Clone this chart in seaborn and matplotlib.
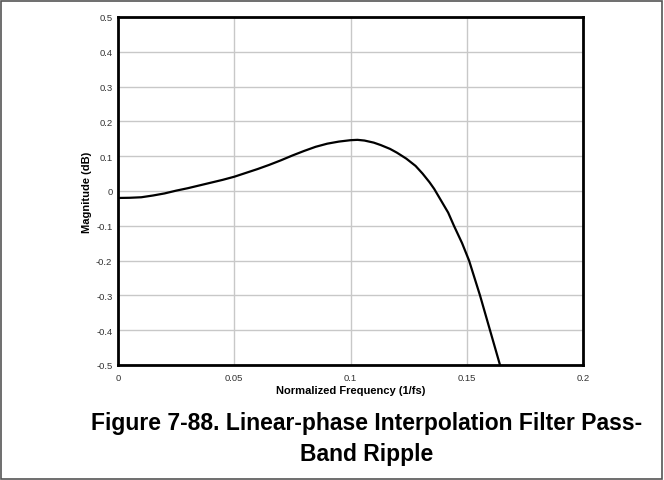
import matplotlib
matplotlib.use("Agg")
import matplotlib.pyplot as plt
import seaborn as sns
import pandas as pd
from matplotlib.patches import Rectangle

# ============================================================
# DATA
# ============================================================

freq = [0.0, 0.005, 0.01, 0.015, 0.02, 0.025, 0.03, 0.035, 0.04, 0.045,
        0.05, 0.055, 0.06, 0.065, 0.07, 0.075, 0.08, 0.085, 0.09, 0.095,
        0.1, 0.103, 0.106, 0.11, 0.113, 0.117, 0.12, 0.124, 0.128, 0.131,
        0.134, 0.136, 0.139, 0.142, 0.1445, 0.148, 0.151, 0.1557, 0.16, 0.1643]
magnitude = [-0.020, -0.0195, -0.018, -0.013, -0.007, 0.001, 0.008, 0.016, 0.024, 0.032,
             0.041, 0.052, 0.063, 0.075, 0.088, 0.102, 0.115, 0.127, 0.136, 0.142,
             0.146, 0.147, 0.145, 0.139, 0.132, 0.121, 0.110, 0.093, 0.072, 0.050,
             0.025, 0.006, -0.028, -0.062, -0.100, -0.150, -0.200, -0.300, -0.400, -0.500]

x_ticks = [0, 0.05, 0.1, 0.15, 0.2]
x_tick_labels = ["0", "0.05", "0.1", "0.15", "0.2"]
y_ticks = [-0.5, -0.4, -0.3, -0.2, -0.1, 0, 0.1, 0.2, 0.3, 0.4, 0.5]
y_tick_labels = ["-0.5", "-0.4", "-0.3", "-0.2", "-0.1", "0",
                 "0.1", "0.2", "0.3", "0.4", "0.5"]

caption = "Figure 7-88. Linear-phase Interpolation Filter Pass-\nBand Ripple"

# ============================================================
# FIGURE
# ============================================================

sns.set_style("white")
plt.rcParams["font.family"] = ["Liberation Sans", "DejaVu Sans"]
plt.rcParams["text.color"] = "black"
plt.rcParams["axes.labelcolor"] = "black"

fig = plt.figure(figsize=(6.64, 4.81), dpi=100)
ax = fig.add_axes([118 / 664, 115 / 481, 465 / 664, 348 / 481])

df = pd.DataFrame({"freq": freq, "mag": magnitude})
sns.lineplot(data=df, x="freq", y="mag", ax=ax, color="black",
             linewidth=1.6, sort=False, estimator=None)

ax.set_xlim(0, 0.2)
ax.set_ylim(-0.5, 0.5)
ax.set_xticks(x_ticks)
ax.set_xticklabels(x_tick_labels)
ax.set_yticks(y_ticks)
ax.set_yticklabels(y_tick_labels)
ax.tick_params(axis="both", labelsize=6.8, colors="#333333", length=0)
ax.tick_params(axis="x", pad=6)
ax.tick_params(axis="y", pad=4)
ax.grid(True, color="#c8c8c8", linewidth=1.0)

for s in ax.spines.values():
    s.set_color("black")
    s.set_linewidth(2.0)

ax.set_xlabel("Normalized Frequency (1/fs)", fontsize=8, fontweight="bold", labelpad=2)
ax.set_ylabel("Magnitude (dB)", fontsize=8, fontweight="bold", labelpad=3)

fig.text(367 / 664, 1 - 439 / 481, caption, ha="center", va="center",
         fontsize=16.5, fontweight="bold", linespacing=1.45, color="black",
         family=["Liberation Sans Narrow", "Liberation Sans", "DejaVu Sans"])

# outer frame
fig.patches.append(Rectangle((0.002, 0.003), 0.995, 0.993, transform=fig.transFigure,
                             fill=False, edgecolor="#555555", linewidth=1.2))

fig.savefig("out.png", dpi=100)
